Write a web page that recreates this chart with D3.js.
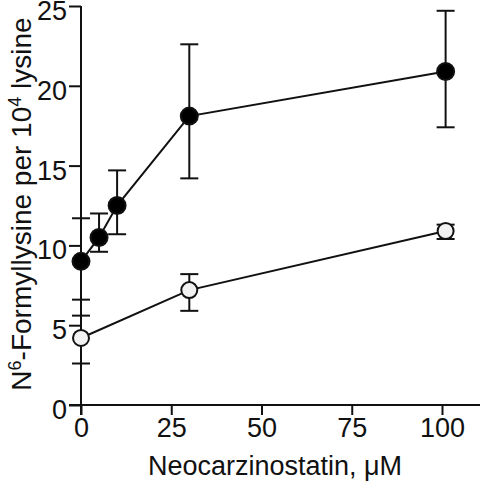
<!DOCTYPE html>
<html><head><meta charset="utf-8">
<script src="https://cdn.jsdelivr.net/npm/d3@7"></script>
<style>body{margin:0;background:#fff}svg{display:block}text{font-family:"Liberation Sans",Arial,sans-serif;fill:#111}</style>
</head><body><div id="c"></div>
<script>
const filledX = [0, 5, 10, 30, 101];
const filledY = [9.0, 10.5, 12.5, 18.1, 20.9];
const filledLo = [6.6, 9.6, 10.7, 14.2, 17.4];
const filledHi = [11.7, 12.0, 14.7, 22.6, 24.7];
const openX = [0, 30, 101];
const openY = [4.2, 7.2, 10.9];
const openLo = [2.6, 5.9, 10.4];
const openHi = [5.6, 8.2, 11.3];
const xTicks = [0, 25, 50, 75, 100];
const yTicks = [0, 5, 10, 15, 20, 25];

const W = 480, H = 483;
const svg = d3.select("#c").append("svg").attr("width", W).attr("height", H);
const x = d3.scaleLinear().domain([0, 100]).range([81, 442]);
const y = d3.scaleLinear().domain([0, 25]).range([405, 6]);

const xAxis = svg.append("g").attr("transform", `translate(0,${y(0)})`)
  .call(d3.axisBottom(x).tickValues(xTicks).tickSize(10).tickSizeOuter(0).tickPadding(3));
xAxis.select(".domain").attr("d", `M${x(0)-12},0H${W}`);
const yAxis = svg.append("g").attr("transform", `translate(${x(0)},0)`)
  .call(d3.axisLeft(y).tickValues(yTicks).tickSize(12).tickSizeOuter(0).tickPadding(2));
yAxis.select(".domain").attr("d", `M0,${y(0)+10}V${y(25)}`);
yAxis.selectAll(".tick text").attr("dy", "0.5em");
svg.selectAll(".domain").attr("stroke", "#111").attr("stroke-width", 2);
svg.selectAll(".tick line").attr("stroke", "#111").attr("stroke-width", 2);
svg.selectAll(".tick text").attr("font-size", 27).style("font-family", '"Liberation Sans",Arial,sans-serif').attr("fill", "#111");

svg.append("text").attr("x", 275).attr("y", 475).attr("text-anchor", "middle")
  .attr("font-size", 27).text("Neocarzinostatin, \u03BCM");
const yl = svg.append("text").attr("transform", "translate(31,204) rotate(-90)")
  .attr("text-anchor", "middle").attr("font-size", 28);
yl.append("tspan").text("N");
yl.append("tspan").attr("font-size", 18).attr("dy", -10).text("6");
yl.append("tspan").attr("dy", 10).text("-Formyllysine per 10");
yl.append("tspan").attr("font-size", 18).attr("dy", -10).text("4");
yl.append("tspan").attr("dy", 10).text(" lysine");

function series(xs, ys, lo, hi, fill, r) {
  const g = svg.append("g");
  const idx = d3.range(xs.length);
  g.append("path").datum(idx).attr("fill", "none").attr("stroke", "#111").attr("stroke-width", 2)
    .attr("d", d3.line().x(i => x(xs[i])).y(i => y(ys[i])));
  const eb = g.selectAll(".eb").data(idx).enter().append("g").attr("stroke", "#111").attr("stroke-width", 2);
  eb.append("line").attr("x1", i => x(xs[i])).attr("x2", i => x(xs[i])).attr("y1", i => y(lo[i])).attr("y2", i => y(hi[i]));
  eb.append("line").attr("x1", i => x(xs[i]) - 9).attr("x2", i => x(xs[i]) + 9).attr("y1", i => y(lo[i])).attr("y2", i => y(lo[i]));
  eb.append("line").attr("x1", i => x(xs[i]) - 9).attr("x2", i => x(xs[i]) + 9).attr("y1", i => y(hi[i])).attr("y2", i => y(hi[i]));
  g.selectAll("circle").data(idx).enter().append("circle")
    .attr("cx", i => x(xs[i])).attr("cy", i => y(ys[i])).attr("r", r)
    .attr("fill", fill).attr("stroke", "#111").attr("stroke-width", 2);
}
series(openX, openY, openLo, openHi, "#f2f2f2", 8);
series(filledX, filledY, filledLo, filledHi, "#000", 8.5);
</script></body></html>
